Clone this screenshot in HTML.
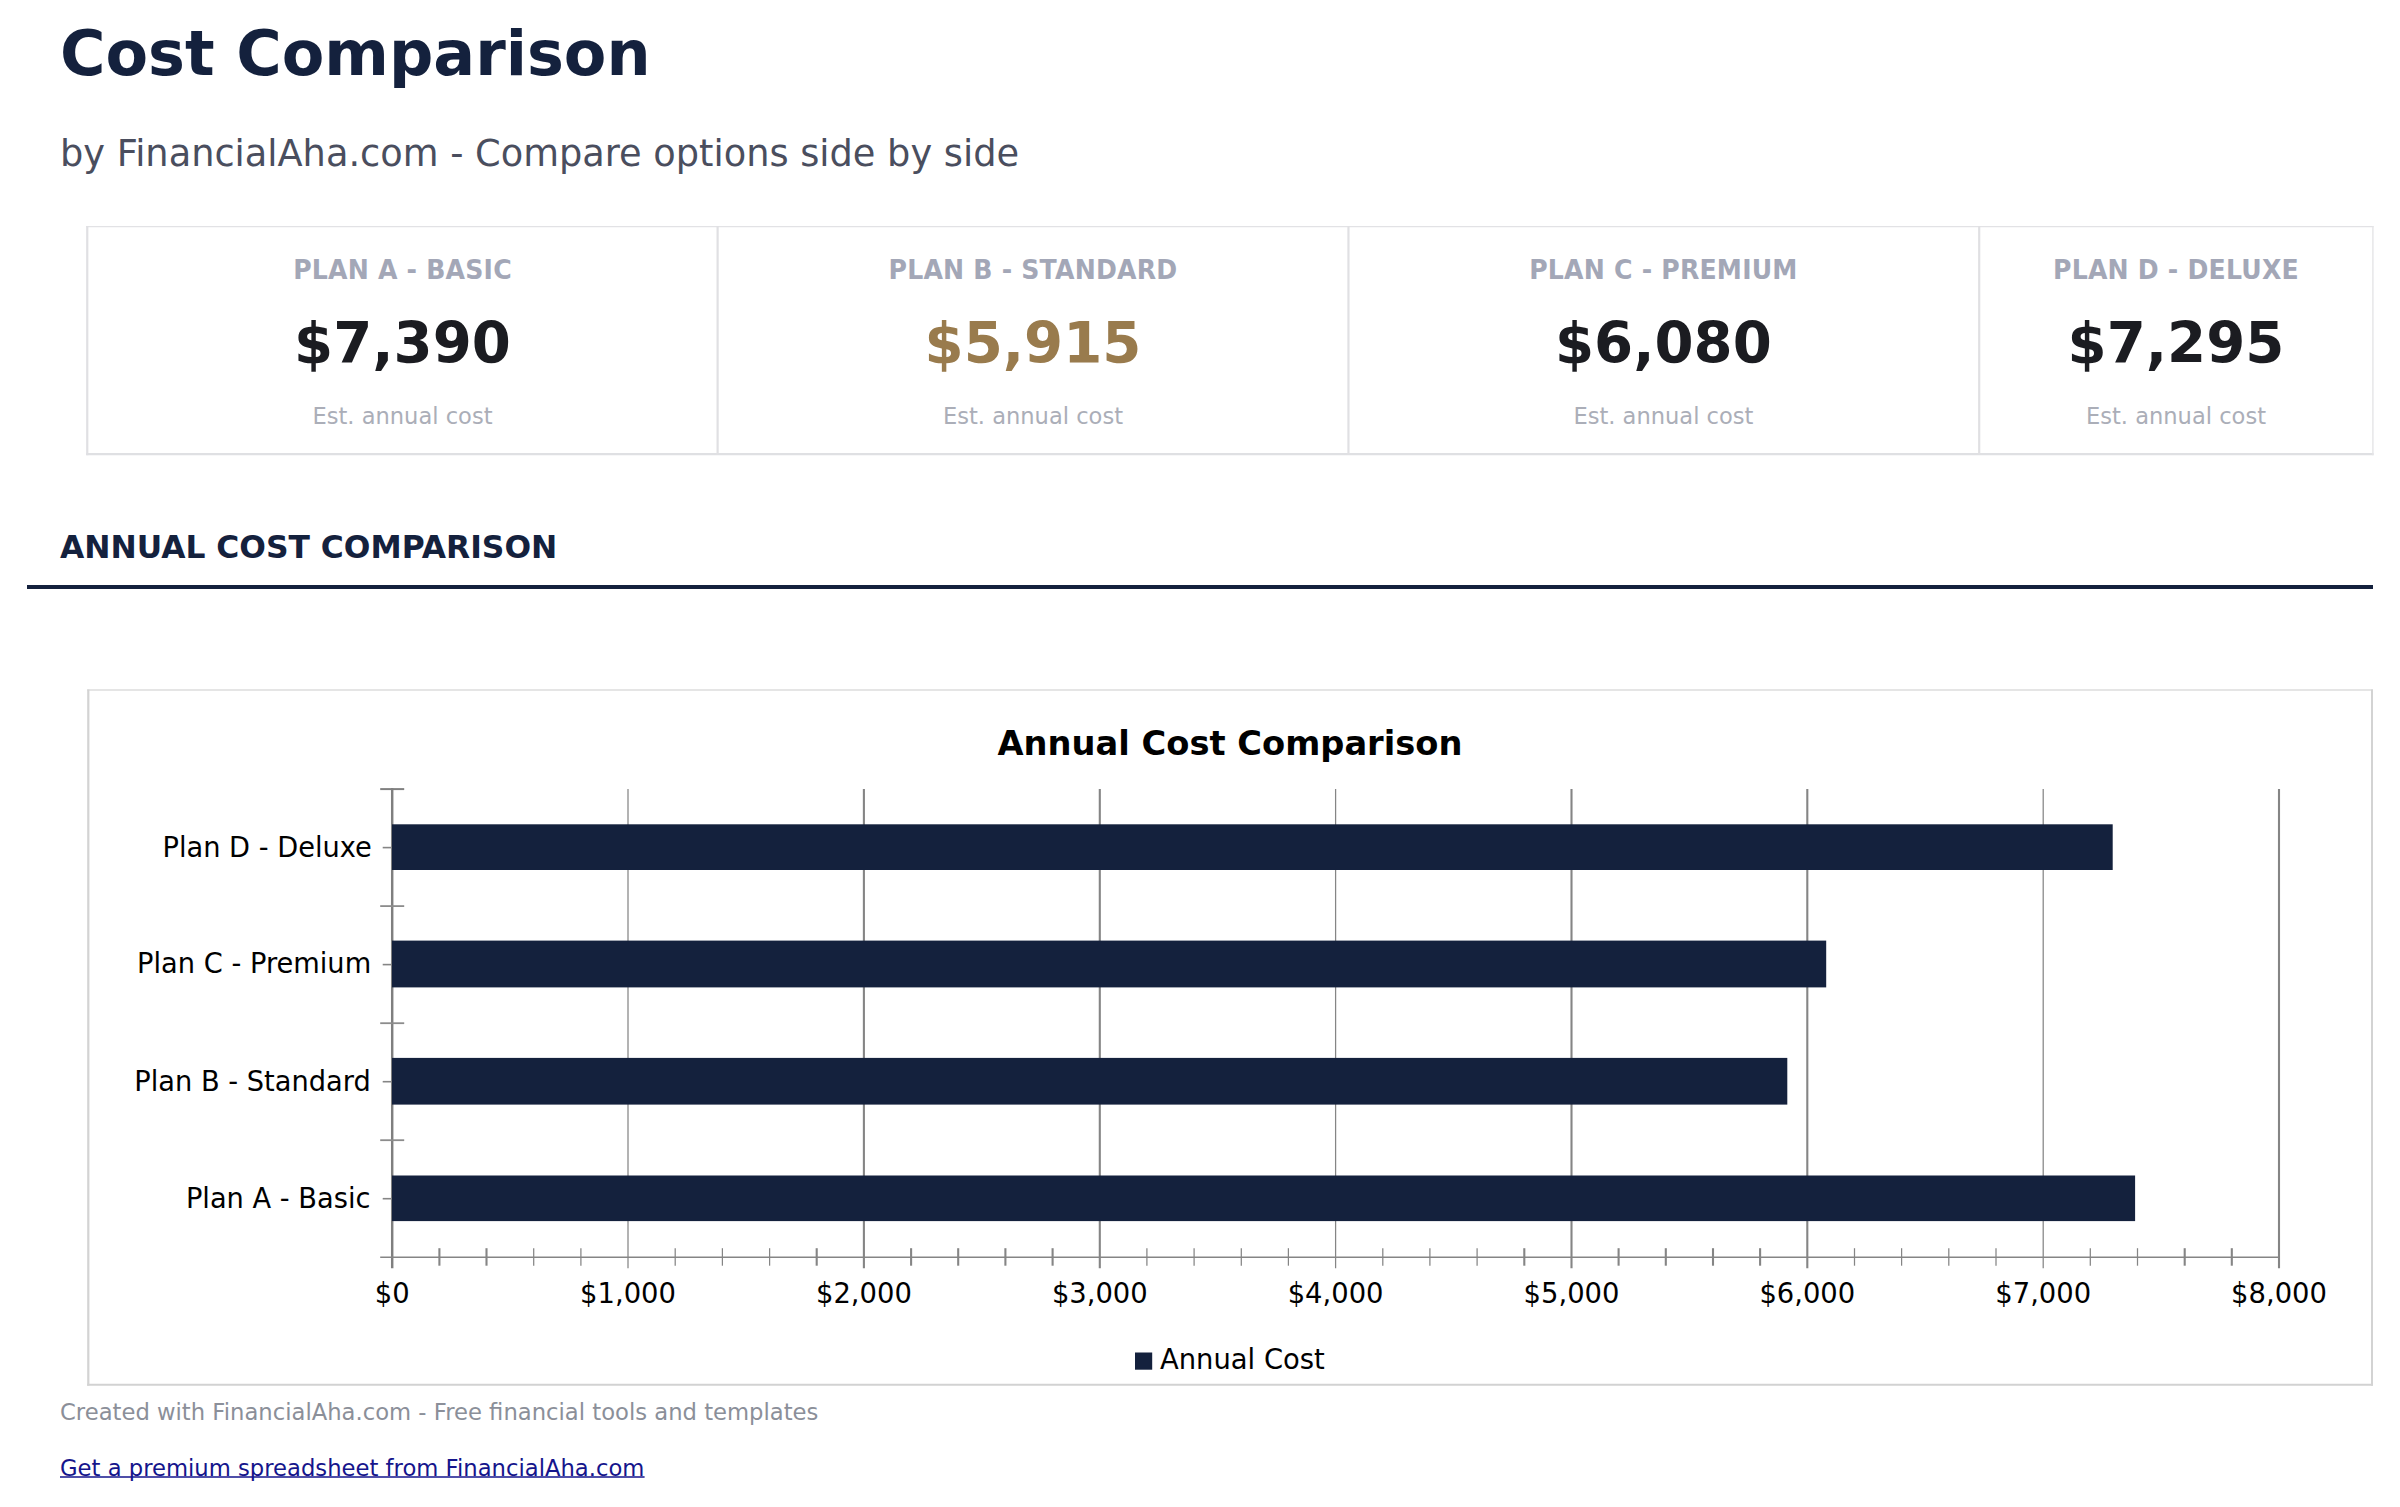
<!DOCTYPE html>
<html lang="en">
<head>
<meta charset="utf-8">
<title>Cost Comparison</title>
<style>
html,body{margin:0;padding:0;background:#fff;}
body{width:2400px;height:1507px;position:relative;overflow:hidden;font-family:"DejaVu Sans","Liberation Sans",sans-serif;color:#000;}
.t{position:absolute;white-space:nowrap;line-height:1;}
#title{left:60px;top:23.4px;font-size:62px;font-weight:bold;color:#14213d;}
#sub{left:60px;top:136.3px;font-size:36.73px;color:#4a4e5e;}
#cards{position:absolute;left:86px;top:226px;width:2286px;height:228px;box-sizing:border-box;border:2px solid transparent;}
#frame{position:absolute;left:80px;top:220px;width:2300px;height:240px;}
.card{position:absolute;top:0;height:224px;box-sizing:border-box;border-left:2px solid transparent;text-align:center;}
.card .lab{position:absolute;left:0;right:0;top:29.9px;font-size:25.2px;letter-spacing:0.19px;font-weight:bold;color:#a3a7b7;line-height:1;transform:scaleY(1.03);transform-origin:50% 21.3px;}
.card .val{position:absolute;left:0;right:0;top:87.8px;font-size:56.2px;font-weight:bold;color:#1b1c21;line-height:1;}
.card .est{position:absolute;left:0;right:0;top:176.6px;font-size:22.57px;color:#abaeb8;line-height:1;}
.card.gold .val{color:#997b4d;}
#sec{left:60px;top:532px;font-size:31.35px;font-weight:bold;color:#14213d;}
#rule{position:absolute;left:27.3px;top:585px;width:2346px;height:4.3px;background:#14213d;}
#chart{position:absolute;left:87px;top:689px;width:2286px;height:697px;}
#foot{left:60px;top:1401.4px;font-size:22.7px;color:#8b8f99;}
#link{left:60px;top:1456.7px;font-size:22.7px;color:#15158c;text-decoration:none;}
#ul{position:absolute;left:0;top:1470px;width:800px;height:14px;}
</style>
</head>
<body>
<div class="t" id="title">Cost Comparison</div>
<div class="t" id="sub">by FinancialAha.com - Compare options side by side</div>
<svg id="frame" width="2300" height="240" viewBox="80 220 2300 240">
<line x1="86.2" y1="226.55" x2="2373.6" y2="226.55" stroke="#e2e2e5" stroke-width="1.3"/>
<line x1="86.2" y1="454.15" x2="2373.6" y2="454.15" stroke="#dfe0e3" stroke-width="2.3"/>
<line x1="87.25" y1="226" x2="87.25" y2="455.2" stroke="#e0e0e3" stroke-width="2.2"/>
<line x1="717.6" y1="226" x2="717.6" y2="455" stroke="#e0e0e3" stroke-width="2.2"/>
<line x1="1348.45" y1="226" x2="1348.45" y2="455" stroke="#e0e0e3" stroke-width="2.2"/>
<line x1="1979.2" y1="226" x2="1979.2" y2="455" stroke="#e0e0e3" stroke-width="2.2"/>
<line x1="2372.9" y1="226" x2="2372.9" y2="455.2" stroke="#e5e5e7" stroke-width="1.4"/>
</svg>
<div id="cards">
  <div class="card" style="left:-2px;width:633px;border-left:none"><div class="lab">PLAN A - BASIC</div><div class="val">$7,390</div><div class="est">Est. annual cost</div></div>
  <div class="card gold" style="left:629px;width:631px;text-indent:-1px"><div class="lab">PLAN B - STANDARD</div><div class="val">$5,915</div><div class="est">Est. annual cost</div></div>
  <div class="card" style="left:1260px;width:631px;text-indent:-2.2px"><div class="lab">PLAN C - PREMIUM</div><div class="val">$6,080</div><div class="est">Est. annual cost</div></div>
  <div class="card" style="left:1891px;width:391px;text-indent:1px"><div class="lab">PLAN D - DELUXE</div><div class="val">$7,295</div><div class="est">Est. annual cost</div></div>
</div>
<div class="t" id="sec">ANNUAL COST COMPARISON</div>
<div id="rule"></div>
<svg id="chart" width="2286" height="697" viewBox="87 689 2286 697" font-family="DejaVu Sans, Liberation Sans, sans-serif">
<!--CHART-->
<line x1="87.2" y1="690.0" x2="2373.2" y2="690.0" stroke="#dcdcdc" stroke-width="1.4"/>
<line x1="87.2" y1="1384.8" x2="2373.2" y2="1384.8" stroke="#d2d2d2" stroke-width="2.1"/>
<line x1="88.3" y1="689.4" x2="88.3" y2="1385.8" stroke="#d3d3d3" stroke-width="2.2"/>
<line x1="2372.1" y1="689.4" x2="2372.1" y2="1385.8" stroke="#d3d3d3" stroke-width="2.2"/>
<line x1="628.0" y1="789.1" x2="628.0" y2="1268.2" stroke="#858585" stroke-width="1.25"/>
<line x1="863.9" y1="789.1" x2="863.9" y2="1268.2" stroke="#858585" stroke-width="2.1"/>
<line x1="1099.8" y1="789.1" x2="1099.8" y2="1268.2" stroke="#858585" stroke-width="2.1"/>
<line x1="1335.6" y1="789.1" x2="1335.6" y2="1268.2" stroke="#858585" stroke-width="1.25"/>
<line x1="1571.5" y1="789.1" x2="1571.5" y2="1268.2" stroke="#858585" stroke-width="2.1"/>
<line x1="1807.3" y1="789.1" x2="1807.3" y2="1268.2" stroke="#858585" stroke-width="2.1"/>
<line x1="2043.2" y1="789.1" x2="2043.2" y2="1268.2" stroke="#858585" stroke-width="1.25"/>
<line x1="2279.0" y1="789.1" x2="2279.0" y2="1268.2" stroke="#858585" stroke-width="2.1"/>
<line x1="392.2" y1="788.1" x2="392.2" y2="1268.2" stroke="#7f7f7f" stroke-width="2.45"/>
<line x1="380.2" y1="789.1" x2="404.2" y2="789.1" stroke="#808080" stroke-width="2"/>
<line x1="380.2" y1="906.1" x2="404.2" y2="906.1" stroke="#8c8c8c" stroke-width="1.8"/>
<line x1="380.2" y1="1023.2" x2="404.2" y2="1023.2" stroke="#8c8c8c" stroke-width="1.8"/>
<line x1="380.2" y1="1140.2" x2="404.2" y2="1140.2" stroke="#8c8c8c" stroke-width="1.8"/>
<line x1="380.2" y1="1257.2" x2="2280.0" y2="1257.2" stroke="#858585" stroke-width="1.6"/>
<line x1="439.4" y1="1248.2" x2="439.4" y2="1265.7" stroke="#858585" stroke-width="2.1"/>
<line x1="486.5" y1="1248.2" x2="486.5" y2="1265.7" stroke="#858585" stroke-width="2.1"/>
<line x1="533.7" y1="1248.2" x2="533.7" y2="1265.7" stroke="#858585" stroke-width="1.25"/>
<line x1="580.9" y1="1248.2" x2="580.9" y2="1265.7" stroke="#858585" stroke-width="1.25"/>
<line x1="675.2" y1="1248.2" x2="675.2" y2="1265.7" stroke="#858585" stroke-width="1.25"/>
<line x1="722.4" y1="1248.2" x2="722.4" y2="1265.7" stroke="#858585" stroke-width="1.25"/>
<line x1="769.6" y1="1248.2" x2="769.6" y2="1265.7" stroke="#858585" stroke-width="1.25"/>
<line x1="816.7" y1="1248.2" x2="816.7" y2="1265.7" stroke="#858585" stroke-width="2.1"/>
<line x1="911.1" y1="1248.2" x2="911.1" y2="1265.7" stroke="#858585" stroke-width="2.1"/>
<line x1="958.2" y1="1248.2" x2="958.2" y2="1265.7" stroke="#858585" stroke-width="2.1"/>
<line x1="1005.4" y1="1248.2" x2="1005.4" y2="1265.7" stroke="#858585" stroke-width="2.1"/>
<line x1="1052.6" y1="1248.2" x2="1052.6" y2="1265.7" stroke="#858585" stroke-width="2.1"/>
<line x1="1146.9" y1="1248.2" x2="1146.9" y2="1265.7" stroke="#858585" stroke-width="1.25"/>
<line x1="1194.1" y1="1248.2" x2="1194.1" y2="1265.7" stroke="#858585" stroke-width="1.25"/>
<line x1="1241.3" y1="1248.2" x2="1241.3" y2="1265.7" stroke="#858585" stroke-width="1.25"/>
<line x1="1288.4" y1="1248.2" x2="1288.4" y2="1265.7" stroke="#858585" stroke-width="1.25"/>
<line x1="1382.8" y1="1248.2" x2="1382.8" y2="1265.7" stroke="#858585" stroke-width="1.25"/>
<line x1="1429.9" y1="1248.2" x2="1429.9" y2="1265.7" stroke="#858585" stroke-width="1.25"/>
<line x1="1477.1" y1="1248.2" x2="1477.1" y2="1265.7" stroke="#858585" stroke-width="1.25"/>
<line x1="1524.3" y1="1248.2" x2="1524.3" y2="1265.7" stroke="#858585" stroke-width="2.1"/>
<line x1="1618.6" y1="1248.2" x2="1618.6" y2="1265.7" stroke="#858585" stroke-width="2.1"/>
<line x1="1665.8" y1="1248.2" x2="1665.8" y2="1265.7" stroke="#858585" stroke-width="2.1"/>
<line x1="1713.0" y1="1248.2" x2="1713.0" y2="1265.7" stroke="#858585" stroke-width="2.1"/>
<line x1="1760.1" y1="1248.2" x2="1760.1" y2="1265.7" stroke="#858585" stroke-width="2.1"/>
<line x1="1854.5" y1="1248.2" x2="1854.5" y2="1265.7" stroke="#858585" stroke-width="1.25"/>
<line x1="1901.6" y1="1248.2" x2="1901.6" y2="1265.7" stroke="#858585" stroke-width="1.25"/>
<line x1="1948.8" y1="1248.2" x2="1948.8" y2="1265.7" stroke="#858585" stroke-width="1.25"/>
<line x1="1996.0" y1="1248.2" x2="1996.0" y2="1265.7" stroke="#858585" stroke-width="1.25"/>
<line x1="2090.3" y1="1248.2" x2="2090.3" y2="1265.7" stroke="#858585" stroke-width="1.25"/>
<line x1="2137.5" y1="1248.2" x2="2137.5" y2="1265.7" stroke="#858585" stroke-width="1.25"/>
<line x1="2184.7" y1="1248.2" x2="2184.7" y2="1265.7" stroke="#858585" stroke-width="2.1"/>
<line x1="2231.8" y1="1248.2" x2="2231.8" y2="1265.7" stroke="#858585" stroke-width="2.1"/>
<line x1="382.7" y1="847.6" x2="392.2" y2="847.6" stroke="#858585" stroke-width="1.6"/>
<rect x="392.0" y="824.3" width="1720.7" height="45.7" fill="#14213d"/>
<text transform="translate(371.9,856.7) scale(0.995,1.04)" font-size="27.4" text-anchor="end" fill="#000">Plan D - Deluxe</text>
<line x1="382.7" y1="964.6" x2="392.2" y2="964.6" stroke="#858585" stroke-width="1.6"/>
<rect x="392.0" y="940.6" width="1434.2" height="46.8" fill="#14213d"/>
<text transform="translate(371.2,973.4) scale(0.995,1.04)" font-size="27.4" text-anchor="end" fill="#000">Plan C - Premium</text>
<line x1="382.7" y1="1081.7" x2="392.2" y2="1081.7" stroke="#858585" stroke-width="1.6"/>
<rect x="392.0" y="1057.9" width="1395.3" height="46.7" fill="#14213d"/>
<text transform="translate(370.8,1090.5) scale(0.995,1.04)" font-size="27.4" text-anchor="end" fill="#000">Plan B - Standard</text>
<line x1="382.7" y1="1198.7" x2="392.2" y2="1198.7" stroke="#858585" stroke-width="1.6"/>
<rect x="392.0" y="1175.5" width="1743.1" height="45.6" fill="#14213d"/>
<text transform="translate(370.5,1207.5) scale(0.995,1.04)" font-size="27.4" text-anchor="end" fill="#000">Plan A - Basic</text>
<text transform="translate(392.2,1303.0) scale(1.0,1.04)" font-size="27.4" text-anchor="middle" fill="#000">$0</text>
<text transform="translate(628.0,1303.0) scale(1.0,1.04)" font-size="27.4" text-anchor="middle" fill="#000">$1,000</text>
<text transform="translate(863.9,1303.0) scale(1.0,1.04)" font-size="27.4" text-anchor="middle" fill="#000">$2,000</text>
<text transform="translate(1099.8,1303.0) scale(1.0,1.04)" font-size="27.4" text-anchor="middle" fill="#000">$3,000</text>
<text transform="translate(1335.6,1303.0) scale(1.0,1.04)" font-size="27.4" text-anchor="middle" fill="#000">$4,000</text>
<text transform="translate(1571.5,1303.0) scale(1.0,1.04)" font-size="27.4" text-anchor="middle" fill="#000">$5,000</text>
<text transform="translate(1807.3,1303.0) scale(1.0,1.04)" font-size="27.4" text-anchor="middle" fill="#000">$6,000</text>
<text transform="translate(2043.2,1303.0) scale(1.0,1.04)" font-size="27.4" text-anchor="middle" fill="#000">$7,000</text>
<text transform="translate(2279.0,1303.0) scale(1.0,1.04)" font-size="27.4" text-anchor="middle" fill="#000">$8,000</text>
<text x="1230" y="755.2" font-size="33.7" font-weight="bold" text-anchor="middle" fill="#000">Annual Cost Comparison</text>
<rect x="1135" y="1352.5" width="17.2" height="17.2" fill="#14213d"/>
<text transform="translate(1160.0,1369.3) scale(1.0,1.04)" font-size="27.4" text-anchor="start" fill="#000">Annual Cost</text>
<!--/CHART-->
</svg>
<div class="t" id="foot">Created with FinancialAha.com - Free financial tools and templates</div>
<a class="t" id="link">Get a premium spreadsheet from FinancialAha.com</a>
<svg id="ul" width="800" height="14" viewBox="0 1470 800 14"><line x1="60" y1="1477.1" x2="644.6" y2="1477.1" stroke="#15158c" stroke-width="1.5"/></svg>
</body>
</html>
